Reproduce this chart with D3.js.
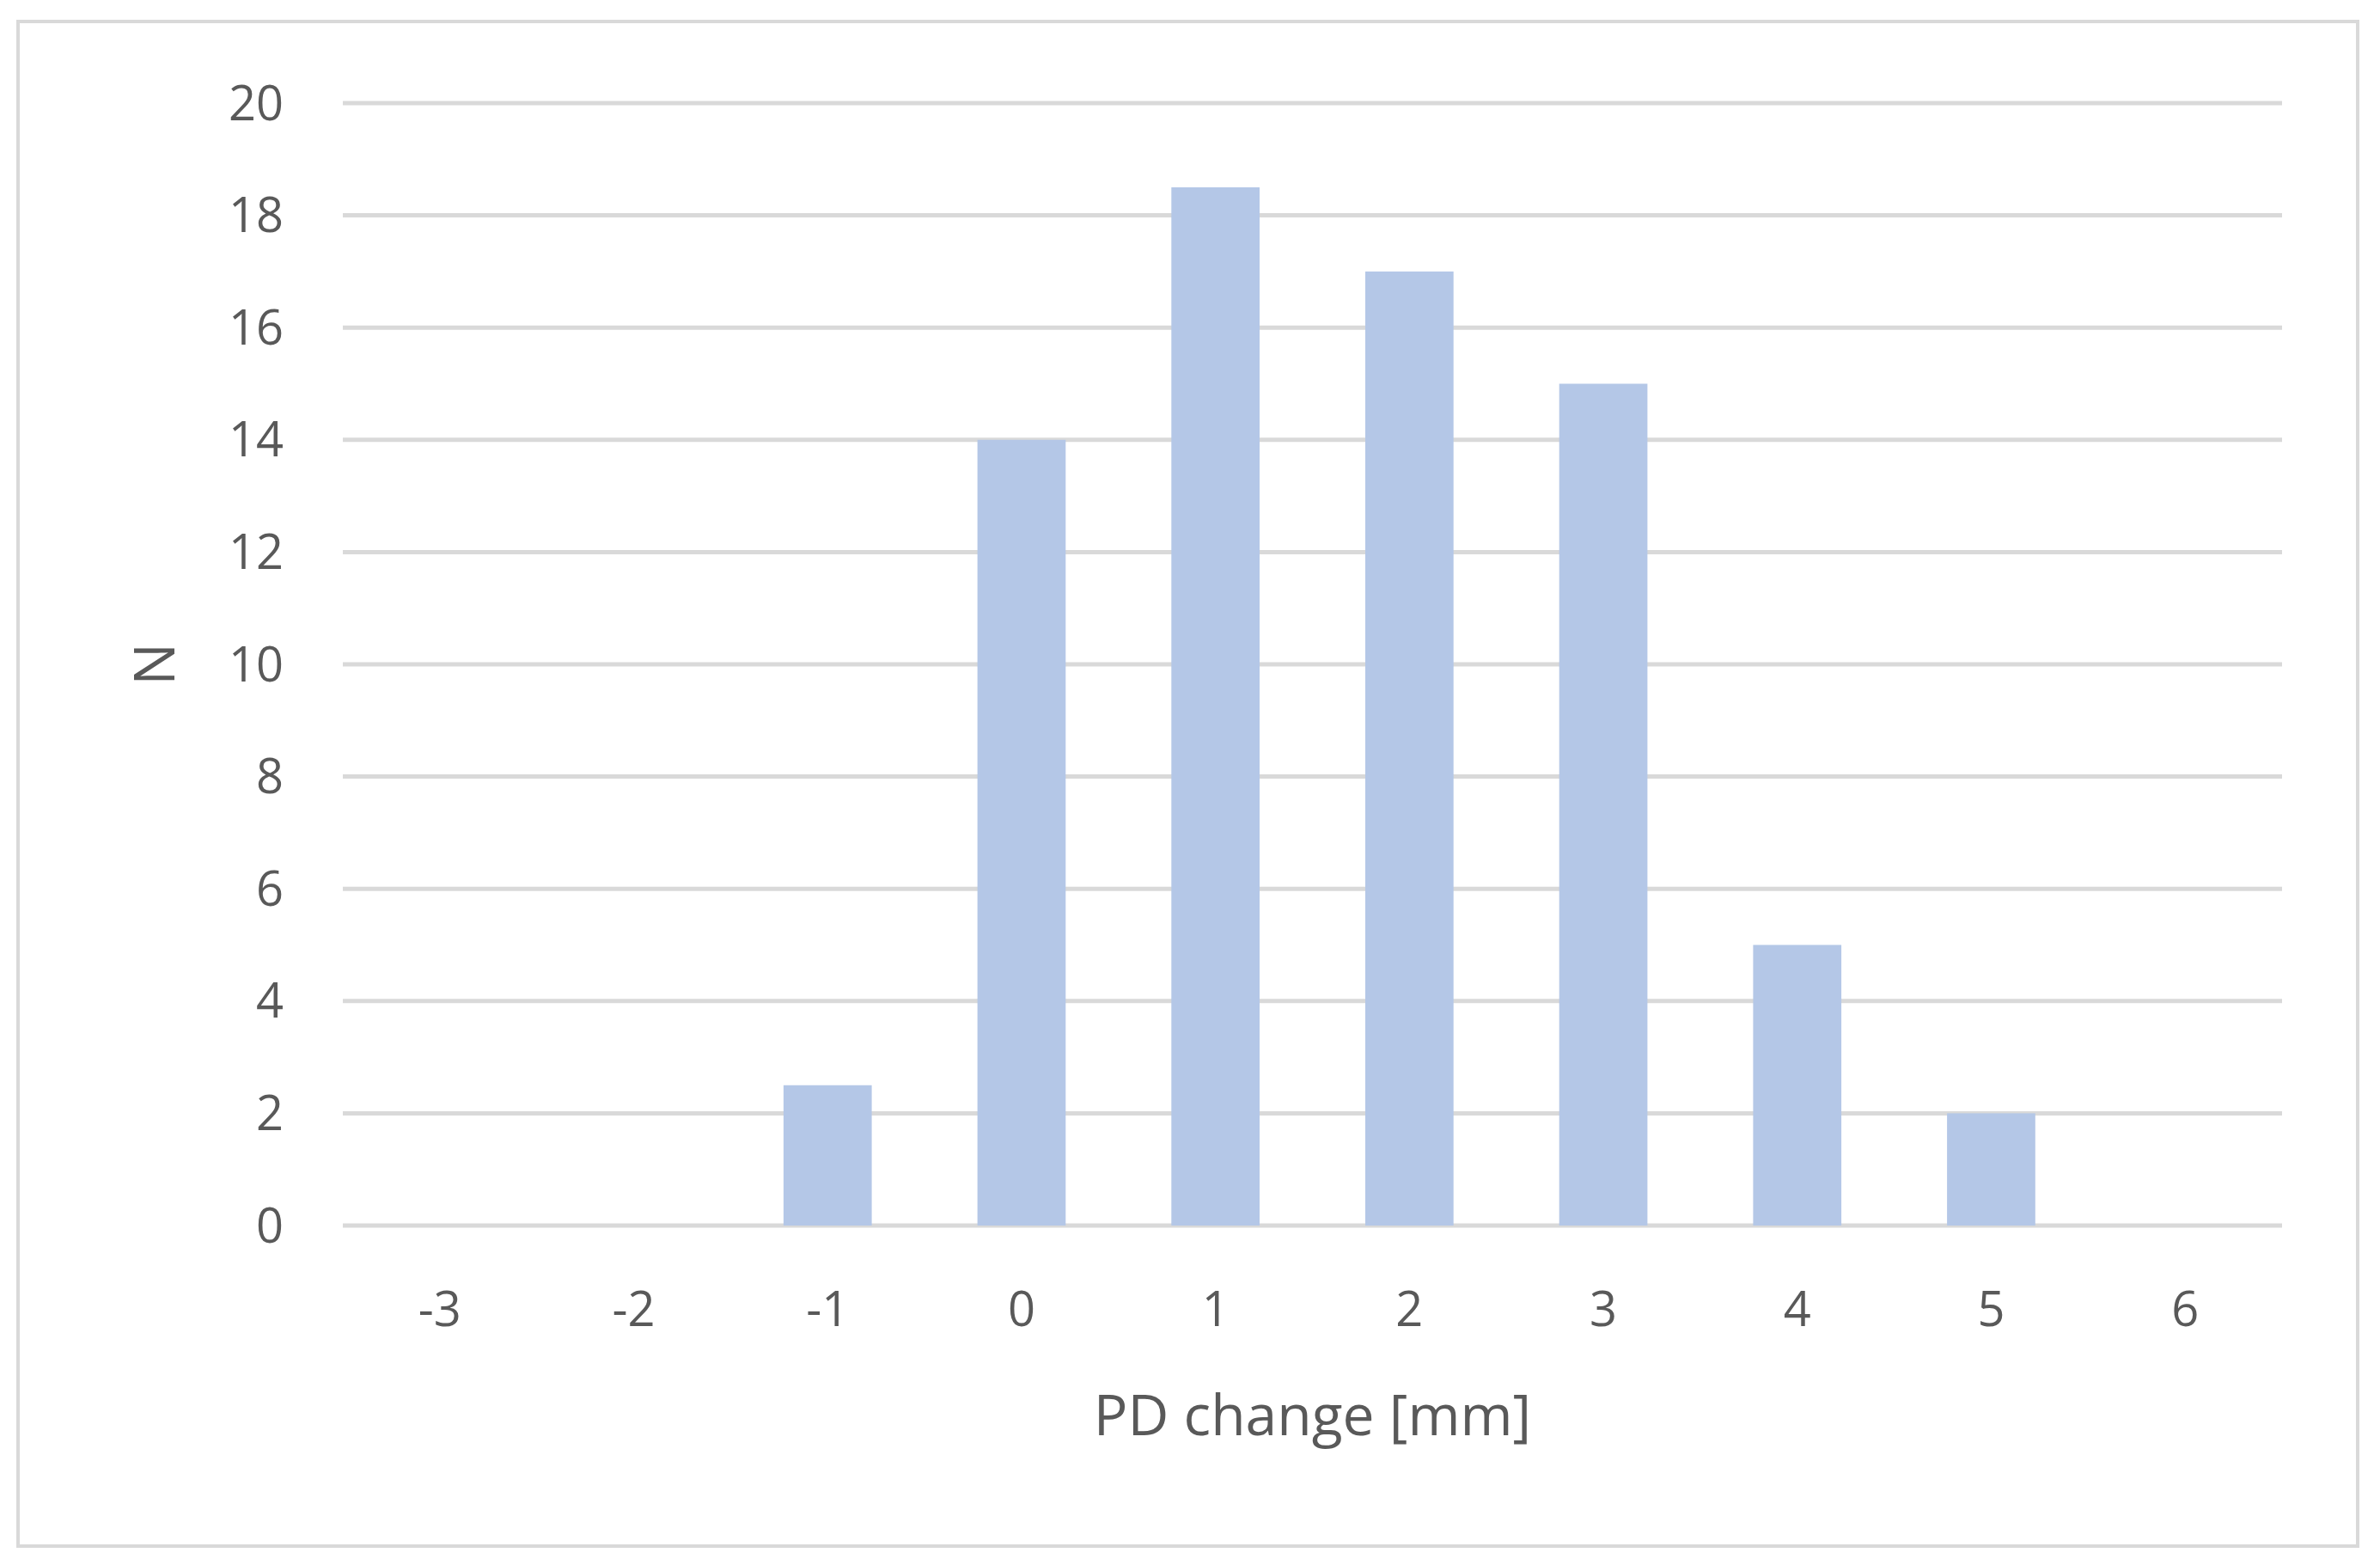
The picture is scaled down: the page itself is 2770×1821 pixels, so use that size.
<!DOCTYPE html>
<html><head><meta charset="utf-8">
<script src="https://cdn.jsdelivr.net/npm/d3@7"></script>
<style>body{margin:0;background:#fff}svg{display:block}</style>
</head><body>
<svg id="c" width="2770" height="1821"></svg>
<script>
const categories = ["-3","-2","-1","0","1","2","3","4","5","6"];
const counts = [0, 0, 2.5, 14, 18.5, 17, 15, 5, 2, 0];
const yTicks = [0,2,4,6,8,10,12,14,16,18,20];

const svg = d3.select("#c");
const m = {left:399, right:2656, top:120, bottom:1426};
const font = "'Open Sans', sans-serif";

svg.append("rect").attr("x",21).attr("y",25).attr("width",2723).attr("height",1774)
  .attr("fill","#fff").attr("stroke","#d9d9d9").attr("stroke-width",4);

const x = d3.scaleBand().domain(categories).range([m.left,m.right]).paddingInner(0.545).paddingOuter(0.2725);
const y = d3.scaleLinear().domain([0,20]).range([m.bottom,m.top]);

svg.append("g").selectAll("line").data(yTicks).join("line")
  .attr("x1",m.left).attr("x2",m.right)
  .attr("y1",d=>y(d)).attr("y2",d=>y(d))
  .attr("stroke","#d9d9d9").attr("stroke-width",5);

svg.append("g").selectAll("rect").data(counts).join("rect")
  .attr("x",(d,i)=>x(categories[i])).attr("width",x.bandwidth())
  .attr("y",d=>y(d)).attr("height",d=>y(0)-y(d))
  .attr("fill","#b4c7e7");

svg.append("g").selectAll("text").data(yTicks).join("text")
  .attr("x",330).attr("y",d=>y(d)).attr("dy","0.35em")
  .attr("text-anchor","end").attr("font-family",font).attr("font-size",56)
  .attr("fill","#595959").text(d=>d);

svg.append("g").selectAll("text").data(categories).join("text")
  .attr("x",d=>x(d)+x.bandwidth()/2).attr("y",1523).attr("dy","0.35em")
  .attr("text-anchor","middle").attr("font-family",font).attr("font-size",56)
  .attr("fill","#595959").text(d=>d);

svg.append("text").attr("x",(m.left+m.right)/2).attr("y",1647).attr("dy","0.35em")
  .attr("text-anchor","middle").attr("font-family",font).attr("font-size",66)
  .attr("fill","#595959").text("PD change [mm]");

svg.append("text").attr("transform","translate(180,"+((m.top+m.bottom)/2)+") rotate(-90)")
  .attr("dy","0.35em").attr("text-anchor","middle").attr("font-family",font).attr("font-size",66)
  .attr("fill","#595959").text("N");
</script>
</body></html>
